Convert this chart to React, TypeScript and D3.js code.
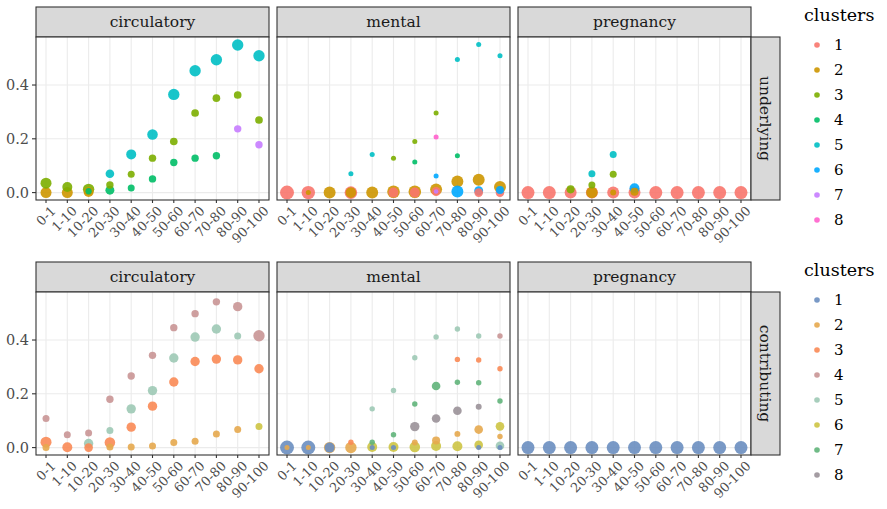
import React, { useRef, useEffect } from 'react';
import * as d3 from 'd3';

const ages = ['0-1', '1-10', '10-20', '20-30', '30-40', '40-50', '50-60', '60-70', '70-80', '80-90', '90-100'];
const causes = ['circulatory', 'mental', 'pregnancy'];
const types = ['underlying', 'contributing'];
const clusters = ['1', '2', '3', '4', '5', '6', '7', '8'];
const yTicks = [0, 0.2, 0.4];

const underlyingColors = ['#F8766D', '#CD9600', '#7CAE00', '#00BE67', '#00BFC4', '#00A9FF', '#C77CFF', '#FF61CC'];
const contributingColors = ['#6A8EC0', '#E6A84E', '#FA8A55', '#C99595', '#9DC9B5', '#CDC444', '#60B47A', '#9A9198'];

// [age group, cluster, proportion, share of cause in cluster]
const underlyingCirculatory = [
  ['0-1', 2, 0.0, 0.62], ['1-10', 2, 0.0, 0.62], ['10-20', 2, 0.002, 0.51],
  ['0-1', 3, 0.035, 0.62], ['1-10', 3, 0.021, 0.51], ['10-20', 3, 0.012, 0.66], ['20-30', 3, 0.028, 0.28],
  ['30-40', 3, 0.068, 0.25], ['40-50', 3, 0.128, 0.28], ['50-60', 3, 0.19, 0.3], ['60-70', 3, 0.296, 0.3],
  ['70-80', 3, 0.351, 0.3], ['80-90', 3, 0.363, 0.3], ['90-100', 3, 0.27, 0.3],
  ['10-20', 4, 0.005, 0.2], ['20-30', 4, 0.009, 0.41], ['30-40', 4, 0.017, 0.25], ['40-50', 4, 0.051, 0.28],
  ['50-60', 4, 0.112, 0.28], ['60-70', 4, 0.128, 0.28], ['70-80', 4, 0.137, 0.28],
  ['20-30', 5, 0.07, 0.38], ['30-40', 5, 0.142, 0.51], ['40-50', 5, 0.216, 0.57], ['50-60', 5, 0.365, 0.66],
  ['60-70', 5, 0.453, 0.66], ['70-80', 5, 0.494, 0.66], ['80-90', 5, 0.549, 0.66], ['90-100', 5, 0.509, 0.66],
  ['80-90', 7, 0.237, 0.28], ['90-100', 7, 0.178, 0.28],
];

const underlyingMental = [
  ['0-1', 1, 0.0, 1.0], ['1-10', 1, 0.0, 0.92], ['20-30', 1, 0.0, 0.81], ['40-50', 1, 0.0, 0.51],
  ['50-60', 1, 0.0, 0.51], ['60-70', 1, 0.004, 0.41], ['80-90', 1, 0.0, 0.38], ['90-100', 1, 0.0, 0.38],
  ['1-10', 2, 0.0, 0.13], ['10-20', 2, 0.0, 0.73], ['20-30', 2, 0.0, 0.57], ['30-40', 2, 0.0, 0.73],
  ['40-50', 2, 0.003, 0.81], ['50-60', 2, 0.003, 0.81], ['60-70', 2, 0.012, 0.73], ['70-80', 2, 0.041, 0.73],
  ['80-90', 2, 0.048, 0.73], ['90-100', 2, 0.021, 0.73],
  ['40-50', 3, 0.128, 0.13], ['50-60', 3, 0.19, 0.13], ['60-70', 3, 0.296, 0.13],
  ['50-60', 4, 0.114, 0.13], ['70-80', 4, 0.137, 0.13],
  ['20-30', 5, 0.07, 0.13], ['30-40', 5, 0.142, 0.13], ['70-80', 5, 0.495, 0.13], ['80-90', 5, 0.551, 0.13],
  ['90-100', 5, 0.509, 0.13],
  ['60-70', 6, 0.062, 0.13], ['70-80', 6, 0.004, 0.73], ['80-90', 6, 0.007, 0.41], ['90-100', 6, 0.01, 0.33],
  ['60-70', 7, 0.004, 0.11],
  ['60-70', 8, 0.207, 0.13],
];

const underlyingPregnancy = [
  ['0-1', 1, 0.0, 0.86], ['1-10', 1, 0.0, 0.86], ['10-20', 1, 0.0, 0.73], ['20-30', 1, 0.0, 0.73],
  ['30-40', 1, 0.0, 0.73], ['40-50', 1, 0.0, 0.73], ['50-60', 1, 0.0, 0.86], ['60-70', 1, 0.0, 0.86],
  ['70-80', 1, 0.0, 0.86], ['80-90', 1, 0.0, 0.86], ['90-100', 1, 0.0, 0.86],
  ['20-30', 2, 0.0, 0.66], ['30-40', 2, 0.0, 0.18], ['40-50', 2, 0.003, 0.33],
  ['10-20', 3, 0.012, 0.33], ['20-30', 3, 0.028, 0.25], ['30-40', 3, 0.068, 0.25],
  ['20-30', 5, 0.07, 0.25], ['30-40', 5, 0.142, 0.25],
  ['40-50', 6, 0.016, 0.51],
];

const contributingCirculatory = [
  ['0-1', 2, 0.0, 0.25], ['20-30', 2, 0.002, 0.25], ['30-40', 2, 0.002, 0.25], ['40-50', 2, 0.006, 0.25],
  ['50-60', 2, 0.019, 0.25], ['60-70', 2, 0.024, 0.25], ['70-80', 2, 0.051, 0.25], ['80-90', 2, 0.067, 0.25],
  ['0-1', 3, 0.02, 0.62], ['1-10', 3, 0.001, 0.51], ['10-20', 3, 0.0, 0.38], ['20-30', 3, 0.019, 0.57],
  ['30-40', 3, 0.076, 0.45], ['40-50', 3, 0.154, 0.45], ['50-60', 3, 0.244, 0.45], ['60-70', 3, 0.32, 0.45],
  ['70-80', 3, 0.329, 0.45], ['80-90', 3, 0.326, 0.45], ['90-100', 3, 0.293, 0.45],
  ['0-1', 4, 0.108, 0.25], ['1-10', 4, 0.048, 0.25], ['10-20', 4, 0.054, 0.25], ['20-30', 4, 0.18, 0.28],
  ['30-40', 4, 0.266, 0.28], ['40-50', 4, 0.343, 0.28], ['50-60', 4, 0.446, 0.28], ['60-70', 4, 0.498, 0.28],
  ['70-80', 4, 0.542, 0.28], ['80-90', 4, 0.524, 0.45], ['90-100', 4, 0.416, 0.66],
  ['10-20', 5, 0.015, 0.45], ['20-30', 5, 0.064, 0.25], ['30-40', 5, 0.144, 0.45], ['40-50', 5, 0.212, 0.45],
  ['50-60', 5, 0.333, 0.45], ['60-70', 5, 0.411, 0.45], ['70-80', 5, 0.441, 0.45], ['80-90', 5, 0.415, 0.25],
  ['90-100', 6, 0.078, 0.25],
];

const contributingMental = [
  ['0-1', 1, 0.0, 1.0], ['1-10', 1, 0.0, 1.0], ['10-20', 1, 0.0, 0.51], ['30-40', 1, 0.0, 0.13],
  ['40-50', 1, 0.0, 0.13], ['80-90', 1, 0.0, 0.13], ['90-100', 1, 0.0, 0.13],
  ['0-1', 2, 0.0, 0.13], ['1-10', 2, 0.0, 0.13], ['10-20', 2, 0.0, 0.66], ['20-30', 2, 0.0, 0.66],
  ['50-60', 2, 0.019, 0.18], ['60-70', 2, 0.026, 0.33], ['70-80', 2, 0.051, 0.18], ['80-90', 2, 0.067, 0.38],
  ['90-100', 2, 0.041, 0.15],
  ['20-30', 3, 0.02, 0.15], ['70-80', 3, 0.328, 0.15], ['80-90', 3, 0.326, 0.15], ['90-100', 3, 0.293, 0.15],
  ['90-100', 4, 0.415, 0.15],
  ['30-40', 5, 0.144, 0.15], ['40-50', 5, 0.212, 0.15], ['50-60', 5, 0.334, 0.15], ['60-70', 5, 0.411, 0.15],
  ['70-80', 5, 0.441, 0.15], ['80-90', 5, 0.415, 0.15], ['90-100', 5, 0.007, 0.38],
  ['30-40', 6, 0.002, 0.51], ['40-50', 6, 0.002, 0.51], ['50-60', 6, 0.002, 0.57], ['60-70', 6, 0.006, 0.51],
  ['70-80', 6, 0.005, 0.51], ['80-90', 6, 0.01, 0.38], ['90-100', 6, 0.079, 0.38],
  ['30-40', 7, 0.02, 0.15], ['40-50', 7, 0.048, 0.15], ['50-60', 7, 0.162, 0.15], ['60-70', 7, 0.229, 0.38],
  ['70-80', 7, 0.243, 0.15], ['80-90', 7, 0.241, 0.15], ['90-100', 7, 0.173, 0.15],
  ['50-60', 8, 0.078, 0.45], ['60-70', 8, 0.108, 0.38], ['70-80', 8, 0.137, 0.38], ['80-90', 8, 0.152, 0.18],
];

const contributingPregnancy = [
  ['0-1', 1, 0.0, 0.86], ['1-10', 1, 0.0, 0.86], ['10-20', 1, 0.0, 0.86], ['20-30', 1, 0.0, 0.86],
  ['30-40', 1, 0.0, 0.86], ['40-50', 1, 0.0, 0.86], ['50-60', 1, 0.0, 0.86], ['60-70', 1, 0.0, 0.86],
  ['70-80', 1, 0.0, 0.86], ['80-90', 1, 0.0, 0.86], ['90-100', 1, 0.0, 0.86],
];

const panelData = [
  [underlyingCirculatory, underlyingMental, underlyingPregnancy],
  [contributingCirculatory, contributingMental, contributingPregnancy],
];
const palettes = [underlyingColors, contributingColors];

const App = () => {
  const svgRef = useRef(null);

  const width = 887, height = 509;
  const panelLefts = [36, 277, 518];
  const panelW = 233;
  const stripTops = [7, 262];
  const stripH = 30;
  const panelH = 163;
  const fontFamily = '"DejaVu Serif", serif';

  useEffect(() => {
    const svg = d3.select(svgRef.current);
    svg.selectAll('*').remove();

    // shared scales
    const allValues = panelData.flat(2).map(d => d[2]);
    const yMax = d3.max(allValues);
    const pad = yMax * 0.05;
    const x = d3.scalePoint().domain(ages).range([0, panelW]).padding(0.47);
    const r = d3.scaleSqrt().domain([0, 1]).range([0, 7]);

    types.forEach((type, row) => {
      const top = stripTops[row] + stripH;
      const y = d3.scaleLinear().domain([-pad, yMax + pad]).range([top + panelH, top]);
      const color = d3.scaleOrdinal().domain(clusters).range(palettes[row]);

      causes.forEach((cause, col) => {
        const left = panelLefts[col];
        const g = svg.append('g');

        // strip on top
        g.append('rect')
          .attr('x', left).attr('y', stripTops[row])
          .attr('width', panelW).attr('height', stripH)
          .attr('fill', '#D9D9D9').attr('stroke', '#333333').attr('stroke-width', 1.1);
        g.append('text')
          .attr('x', left + panelW / 2).attr('y', stripTops[row] + stripH / 2)
          .attr('dy', '0.35em')
          .attr('text-anchor', 'middle')
          .style('font-family', fontFamily).style('font-size', '15.5px').attr('fill', '#1A1A1A')
          .text(cause);

        // panel background + grid
        g.append('rect')
          .attr('x', left).attr('y', top).attr('width', panelW).attr('height', panelH)
          .attr('fill', 'white');
        g.selectAll('.gx').data(ages).enter().append('line')
          .attr('x1', d => left + x(d)).attr('x2', d => left + x(d))
          .attr('y1', top).attr('y2', top + panelH)
          .attr('stroke', '#EBEBEB').attr('stroke-width', 1.1);
        g.selectAll('.gy').data(yTicks).enter().append('line')
          .attr('x1', left).attr('x2', left + panelW)
          .attr('y1', d => y(d)).attr('y2', d => y(d))
          .attr('stroke', '#EBEBEB').attr('stroke-width', 1.1);

        // points, bigger ones drawn first
        const pts = panelData[row][col].slice().sort((a, b) => b[3] - a[3]);
        g.selectAll('.pt').data(pts).enter().append('circle')
          .attr('cx', d => left + x(d[0]))
          .attr('cy', d => y(d[2]))
          .attr('r', d => r(d[3]))
          .attr('fill', d => color(String(d[1])))
          .attr('fill-opacity', 0.9);

        // panel border
        g.append('rect')
          .attr('x', left).attr('y', top).attr('width', panelW).attr('height', panelH)
          .attr('fill', 'none').attr('stroke', '#333333').attr('stroke-width', 1.1);

        // x axis ticks and labels
        ages.forEach(a => {
          const xx = left + x(a);
          g.append('line')
            .attr('x1', xx).attr('x2', xx).attr('y1', top + panelH).attr('y2', top + panelH + 3)
            .attr('stroke', '#333333').attr('stroke-width', 1.1);
          g.append('text')
            .attr('transform', `translate(${xx + 4},${top + panelH + 5}) rotate(-45)`)
            .attr('text-anchor', 'end').attr('dy', '0.72em')
            .style('font-family', fontFamily).style('font-size', '13px').attr('fill', '#4D4D4D')
            .text(a);
        });

        // y axis only on first column
        if (col === 0) {
          yTicks.forEach(t => {
            g.append('line')
              .attr('x1', left - 4).attr('x2', left).attr('y1', y(t)).attr('y2', y(t))
              .attr('stroke', '#333333').attr('stroke-width', 1.1);
            g.append('text')
              .attr('x', left - 7).attr('y', y(t)).attr('dy', '0.36em')
              .attr('text-anchor', 'end')
              .style('font-family', fontFamily).style('font-size', '14.5px').attr('fill', '#4D4D4D')
              .text(d3.format('.1f')(t));
          });
        }
      });

      // strip on the right
      const sx = panelLefts[2] + panelW;
      svg.append('rect')
        .attr('x', sx).attr('y', top).attr('width', 29).attr('height', panelH)
        .attr('fill', '#D9D9D9').attr('stroke', '#333333').attr('stroke-width', 1.1);
      svg.append('text')
        .attr('transform', `translate(${sx + 14.5},${top + panelH / 2}) rotate(90)`)
        .attr('text-anchor', 'middle').attr('dy', '0.35em')
        .style('font-family', fontFamily).style('font-size', '15.5px').attr('fill', '#1A1A1A')
        .text(type);

      // legend
      const legTop = stripTops[row];
      svg.append('text')
        .attr('x', 804).attr('y', legTop + 14)
        .style('font-family', fontFamily).style('font-size', '17.5px').attr('fill', '#000')
        .text('clusters');
      clusters.forEach((c, i) => {
        const ly = legTop + 38 + i * 25;
        svg.append('circle')
          .attr('cx', 817).attr('cy', ly).attr('r', 2.8)
          .attr('fill', color(c)).attr('fill-opacity', 0.9);
        svg.append('text')
          .attr('x', 834).attr('y', ly).attr('dy', '0.35em')
          .style('font-family', fontFamily).style('font-size', '15px').attr('fill', '#000')
          .text(c);
      });
    });
  }, []);

  return (
    <div style={{ position: 'absolute', left: 0, top: 0 }}>
      <svg ref={svgRef} width={width} height={height} style={{ display: 'block', background: 'white' }} />
    </div>
  );
};

export default App;
